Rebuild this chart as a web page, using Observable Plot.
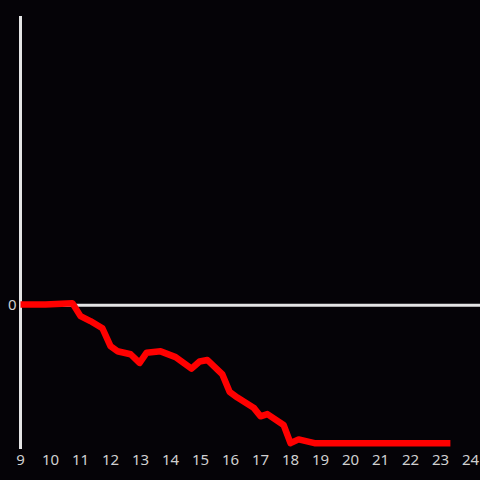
<!DOCTYPE html>
<html>
<head>
<meta charset="utf-8">
<script src="https://cdn.jsdelivr.net/npm/d3@7"></script>
<script src="https://cdn.jsdelivr.net/npm/@observablehq/plot@0.6"></script>
<style>
  html, body { margin: 0; padding: 0; background: #050307; }
  #chart { width: 480px; height: 480px; }
  #chart svg text { font-size: 15px !important; font-family: 'Noto Sans', sans-serif !important; }
</style>
</head>
<body>
<div id="chart"></div>
<script>
const hours = [9.0, 9.83, 10.73, 11.0, 11.33, 11.73, 12.0, 12.23, 12.67, 12.97, 13.2, 13.67, 14.17, 14.7, 14.97, 15.23, 15.73, 15.97, 16.23, 16.77, 17.0, 17.23, 17.77, 18.0, 18.27, 18.8, 23.33];
const values = [0.5, 0.5, 1.4, -7.6, -11, -16, -28.4, -31.9, -34, -40, -33, -32, -36, -44, -39, -38, -48, -60, -64, -71, -77, -75.5, -83, -95.6, -93, -95.6, -95.6];
const xTicks = [9, 10, 11, 12, 13, 14, 15, 16, 17, 18, 19, 20, 21, 22, 23, 24];
const yTicks = [0];

const data = hours.map((h, i) => ({h, v: values[i]}));

const chart = Plot.plot({
  width: 480,
  height: 480,
  marginLeft: 20,
  marginRight: 10,
  marginTop: 16,
  marginBottom: 31,
  style: {background: "#050307", color: "#d0d0d0", fontSize: "15px", fontFamily: "'Noto Sans', sans-serif", overflow: "visible"},
  x: {domain: [9, 24], tickSize: 0, label: null},
  y: {domain: [-100, 200], tickSize: 0, label: null},
  marks: [
    Plot.axisX({ticks: xTicks, tickSize: 0, tickPadding: 5, label: null, fill: "#d0d0d0"}),
    Plot.axisY({ticks: yTicks, tickSize: 0, tickPadding: 4, label: null, fill: "#d0d0d0"}),
    Plot.ruleY([0], {x1: 9, x2: 24.4, stroke: "#e4e4e4", strokeWidth: 3, clip: false}),
    Plot.ruleX([9], {y1: -100, y2: 200, stroke: "#e4e4e4", strokeWidth: 3}),
    Plot.line(data, {x: "h", y: "v", stroke: "#ff0000", strokeWidth: 6.5, strokeLinejoin: "round", strokeLinecap: "butt"})
  ]
});
document.getElementById("chart").appendChild(chart);
</script>
</body>
</html>
